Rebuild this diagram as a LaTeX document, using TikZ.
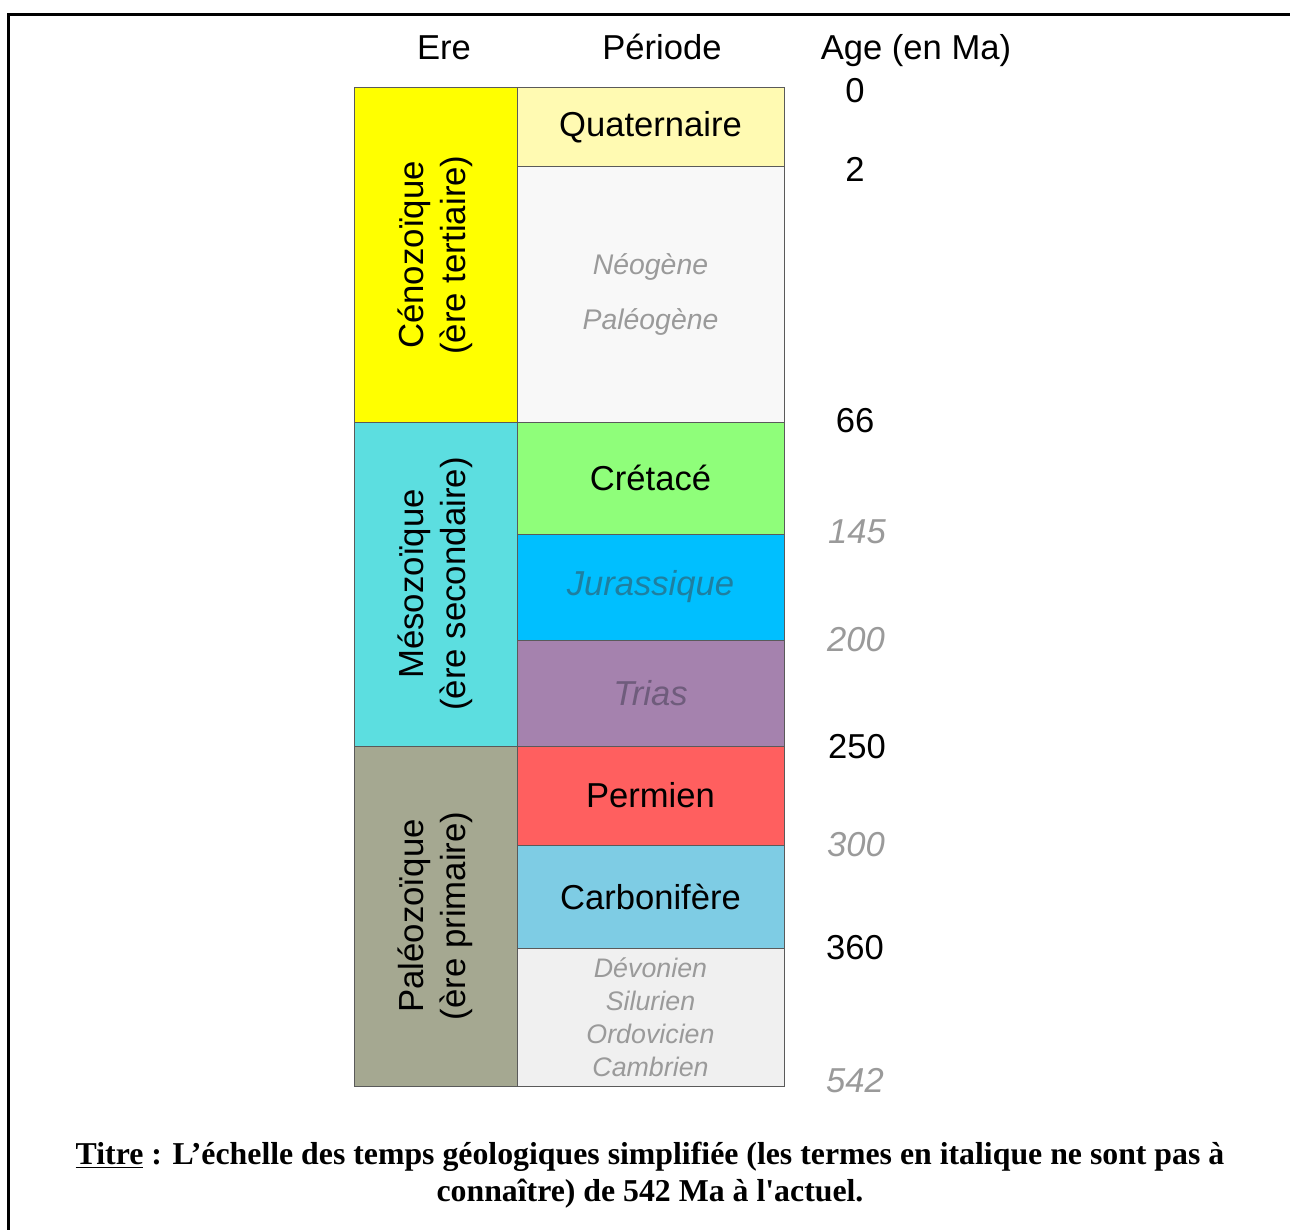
\documentclass[tikz,border=0pt]{standalone}
\usepackage{fontspec}
\setmainfont{Liberation Sans}
\newfontfamily\titrefont{Liberation Serif}
\usetikzlibrary{positioning}

\definecolor{ceno}{HTML}{FFFF00}
\definecolor{meso}{HTML}{5CDEE0}
\definecolor{paleo}{HTML}{A5A891}
\definecolor{quat}{HTML}{FFFAB2}
\definecolor{neo}{HTML}{F8F8F8}
\definecolor{cret}{HTML}{8FFE7A}
\definecolor{jur}{HTML}{00BFFF}
\definecolor{trias}{HTML}{A582AE}
\definecolor{perm}{HTML}{FF5F5F}
\definecolor{carb}{HTML}{7ECCE4}
\definecolor{dev}{HTML}{F0F0F0}
\definecolor{pale}{HTML}{9A9A9A}
\definecolor{jurtext}{HTML}{1F7FA0}
\definecolor{triastext}{HTML}{6F5C7C}
\definecolor{bord}{HTML}{5A5A5A}

\tikzset{
  cell/.style={draw=bord, line width=0.5pt, inner sep=0pt, outer sep=0pt,
    minimum width=133.5pt, align=center, font=\fontsize{17.3}{20}\selectfont},
  era/.style={draw=bord, line width=0.5pt, inner sep=0pt, outer sep=0pt,
    rotate=90, minimum height=81.5pt, align=center,
    font=\fontsize{17.4}{21}\selectfont},
  head/.style={font=\fontsize{17.3}{20}\selectfont, inner sep=0pt, anchor=base},
  age/.style={font=\fontsize{17.3}{20}\selectfont, inner sep=0pt},
  agepale/.style={age, text=pale, font=\fontsize{17.3}{20}\selectfont\itshape},
  minor/.style={text=pale, font=\fontsize{14.2}{27.5}\selectfont\itshape},
  tiny/.style={text=pale, font=\fontsize{13.4}{16.5}\selectfont\itshape}
}

\begin{document}
\begin{tikzpicture}[x=0.5pt, y=-0.5pt]
  \useasboundingbox (0,0) rectangle (1290,1230);
  % cadre
  \draw[line width=1.5pt] (8,1230) -- (8,15) -- (1290,15);

  % en-tetes
  \node[head] (h-ere) at (444,60) {Ere};
  \node[head] (h-per) at (662,60) {Période};
  \node[head] (h-age) at (916,60) {Age (en Ma)};

  % eres
  \node[era, fill=ceno, minimum width=167pt] (ceno) at (435.5,255)
    {Cénozoïque\\(ère tertiaire)};
  \node[era, fill=meso, minimum width=162pt] (meso) at (435.5,584)
    {Mésozoïque\\(ère secondaire)};
  \node[era, fill=paleo, minimum width=170pt] (paleo) at (435.5,916)
    {Paléozoïque\\(ère primaire)};

  % periodes
  \node[cell, fill=quat, minimum height=39.5pt, anchor=north west] (quat) at (517,88) {Quaternaire};
  \node[cell, minor, fill=neo, minimum height=127.5pt, below=0pt of quat] (neo)
    {Néogène\\Paléogène};
  \node[cell, fill=cret, minimum height=56pt, below=0pt of neo] (cret) {Crétacé};
  \node[cell, fill=jur, text=jurtext, minimum height=53pt, below=0pt of cret] (jur)
    {\itshape Jurassique};
  \node[cell, fill=trias, text=triastext, minimum height=53pt, below=0pt of jur] (trias)
    {\itshape Trias};
  \node[cell, fill=perm, minimum height=49.5pt, below=0pt of trias] (perm) {Permien};
  \node[cell, fill=carb, minimum height=51.5pt, below=0pt of perm] (carb) {Carbonifère};
  \node[cell, tiny, fill=dev, minimum height=69pt, below=0pt of carb] (dev)
    {Dévonien\\Silurien\\Ordovicien\\Cambrien};

  % ages
  \node[age] (a0) at (855,91) {0};
  \node[age] (a2) at (855,169) {2};
  \node[age] (a66) at (855,421) {66};
  \node[agepale] (a145) at (857,532) {145};
  \node[agepale] (a200) at (856,640) {200};
  \node[age] (a250) at (857,747) {250};
  \node[agepale] (a300) at (856,845) {300};
  \node[age] (a360) at (855,948) {360};
  \node[agepale] (a542) at (855,1081) {542};

  % titre
  \node[align=center, inner sep=0pt, font=\titrefont\bfseries\fontsize{15.9}{18.5}\selectfont]
    (titre) at (650,1175)
    {\underline{Titre} : L’échelle des temps géologiques simplifiée (les termes en italique ne sont pas à\\
     connaître) de 542 Ma à l'actuel.};
\end{tikzpicture}
\end{document}
